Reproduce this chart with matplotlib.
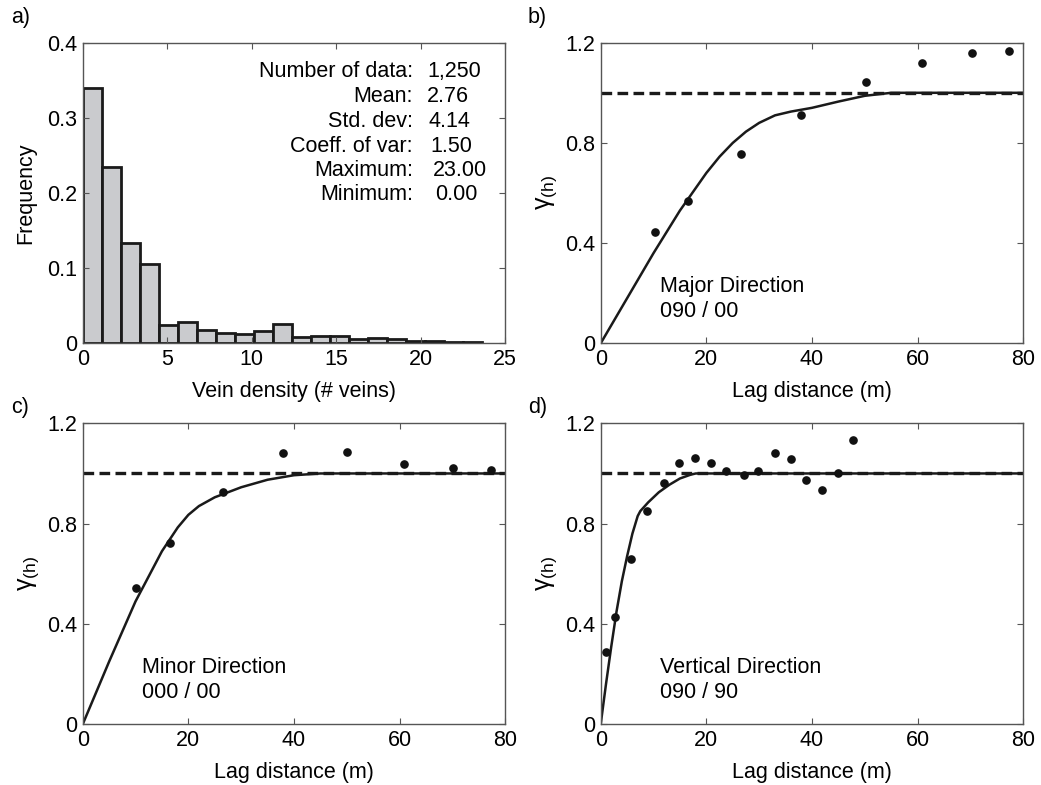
import matplotlib
matplotlib.use("Agg")
import matplotlib.pyplot as plt
from matplotlib.ticker import FuncFormatter

plt.rcParams['font.family'] = ['Liberation Sans', 'DejaVu Sans']
plt.rcParams['mathtext.fontset'] = 'custom'
plt.rcParams['mathtext.rm'] = 'Liberation Sans'
plt.rcParams['mathtext.it'] = 'Liberation Sans'

# histogram (a)
bin_width = 1.125
freq = [0.340, 0.234, 0.134, 0.105, 0.025, 0.028, 0.018, 0.014, 0.013, 0.017,
        0.026, 0.008, 0.010, 0.010, 0.006, 0.007, 0.006, 0.0035, 0.0035, 0.0018, 0.0018]
stat_labels = ['Number of data:', 'Mean:', 'Std. dev:', 'Coeff. of var:', 'Maximum:', 'Minimum:']
stat_values = ['1,250', '2.76', '4.14', '1.50', '23.00', '0.00']

# variogram (b) major direction
b_lag = [10.2, 16.5, 26.6, 37.9, 50.2, 60.8, 70.2, 77.3]
b_gam = [0.446, 0.569, 0.756, 0.910, 1.044, 1.119, 1.160, 1.168]
b_mod_x = [0, 5, 10, 15, 20, 22.5, 25, 27.5, 30, 33, 36, 40, 45, 50, 55, 80]
b_mod_y = [0, 0.18, 0.36, 0.53, 0.68, 0.745, 0.80, 0.845, 0.88, 0.91, 0.925, 0.94, 0.965, 0.988, 1.0, 1.0]

# variogram (c) minor direction
c_lag = [10.1, 16.5, 26.6, 37.9, 50.1, 60.8, 70.1, 77.3]
c_gam = [0.544, 0.722, 0.928, 1.082, 1.084, 1.039, 1.022, 1.015]
c_mod_x = [0, 5, 10, 15, 18, 20, 22, 25, 30, 35, 40, 45, 80]
c_mod_y = [0, 0.25, 0.49, 0.69, 0.785, 0.835, 0.87, 0.905, 0.945, 0.975, 0.993, 1.0, 1.0]

# variogram (d) vertical direction
d_lag = [1.0, 2.8, 5.8, 8.8, 11.9, 14.8, 17.8, 20.8, 23.8, 27.2, 29.8, 33.0, 36.0,
         38.8, 41.8, 45.0, 47.8]
d_gam = [0.287, 0.428, 0.659, 0.849, 0.962, 1.043, 1.063, 1.043, 1.010, 0.993, 1.010,
         1.082, 1.056, 0.975, 0.933, 1.001, 1.134]
d_mod_x = [0, 1, 2, 3, 4, 5, 6, 7, 7.5, 9, 11, 13, 15, 17, 18, 80]
d_mod_y = [0, 0.16, 0.31, 0.45, 0.57, 0.67, 0.76, 0.83, 0.85, 0.885, 0.925, 0.955, 0.98, 0.995, 1.0, 1.0]

sill = 1.0
FS = 15.5

fig = plt.figure(figsize=(10.41, 7.85), dpi=100)
W, H = 1041.0, 785.0
def pos(l, t, r, b):
    return [l / W, (H - b) / H, (r - l) / W, (b - t) / H]

ax_a = fig.add_axes(pos(82.7, 42.7, 505.3, 343.3))
ax_b = fig.add_axes(pos(600.7, 42.7, 1023.3, 343.3))
ax_c = fig.add_axes(pos(82.7, 423.3, 505.3, 724.3))
ax_d = fig.add_axes(pos(600.7, 423.3, 1023.3, 724.3))

fmt = FuncFormatter(lambda v, p: '%g' % v)

def style(ax):
    ax.tick_params(direction='in', top=True, right=True, length=4, width=0.8,
                   labelsize=FS, color='#555555', pad=4)
    for s in ax.spines.values():
        s.set_color('#555555')
        s.set_linewidth(1.0)
    ax.xaxis.set_major_formatter(fmt)
    ax.yaxis.set_major_formatter(fmt)

# a) histogram
lefts = [i * bin_width for i in range(len(freq))]
ax_a.bar(lefts, freq, width=bin_width, align='edge', color='#cacbce',
         edgecolor='#1a1a1a', linewidth=2.0)
ax_a.set_xlim(0, 25)
ax_a.set_ylim(0, 0.4)
ax_a.set_xticks([0, 5, 10, 15, 20, 25])
ax_a.set_yticks([0, 0.1, 0.2, 0.3, 0.4])
style(ax_a)
ax_a.set_xlabel('Vein density (# veins)', fontsize=FS, labelpad=8)
ax_a.set_ylabel('Frequency', fontsize=FS, labelpad=8)
rows_y = [0.9035, 0.820, 0.737, 0.654, 0.575, 0.4935]
val_x = [0.815, 0.815, 0.818, 0.822, 0.829, 0.834]
for lab, val, yy, vx in zip(stat_labels, stat_values, rows_y, val_x):
    ax_a.text(0.7816, yy, lab, transform=ax_a.transAxes, ha='right', va='center', fontsize=FS)
    ax_a.text(vx, yy, val, transform=ax_a.transAxes, ha='left', va='center', fontsize=FS)

def vario(ax, lag, gam, mx, my, l1, l2):
    ax.plot([0, 80], [sill, sill], color='#1a1a1a', linestyle=(0, (3.2, 1.6)), linewidth=2.4)
    ax.plot(mx, my, color='#1a1a1a', linewidth=1.8)
    ax.plot(lag, gam, 'o', color='#111111', markersize=5.2)
    ax.set_xlim(0, 80)
    ax.set_ylim(0, 1.2)
    ax.set_xticks([0, 20, 40, 60, 80])
    ax.set_yticks([0, 0.4, 0.8, 1.2])
    style(ax)
    ax.set_xlabel('Lag distance (m)', fontsize=FS, labelpad=8)
    ax.set_ylabel(r'$\gamma_{(h)}$', fontsize=18, labelpad=4)
    ax.text(11.2, 0.225, l1, ha='left', va='center', fontsize=FS)
    ax.text(11.2, 0.128, l2, ha='left', va='center', fontsize=FS)

vario(ax_b, b_lag, b_gam, b_mod_x, b_mod_y, 'Major Direction', '090 / 00')
vario(ax_c, c_lag, c_gam, c_mod_x, c_mod_y, 'Minor Direction', '000 / 00')
vario(ax_d, d_lag, d_gam, d_mod_x, d_mod_y, 'Vertical Direction', '090 / 90')

for lab, x, y in [('a)', 11, 18), ('b)', 528, 18), ('c)', 11, 408), ('d)', 528, 408)]:
    fig.text(x / W, 1 - y / H, lab, fontsize=FS, ha='left', va='center')

fig.savefig('out.png', dpi=100)
